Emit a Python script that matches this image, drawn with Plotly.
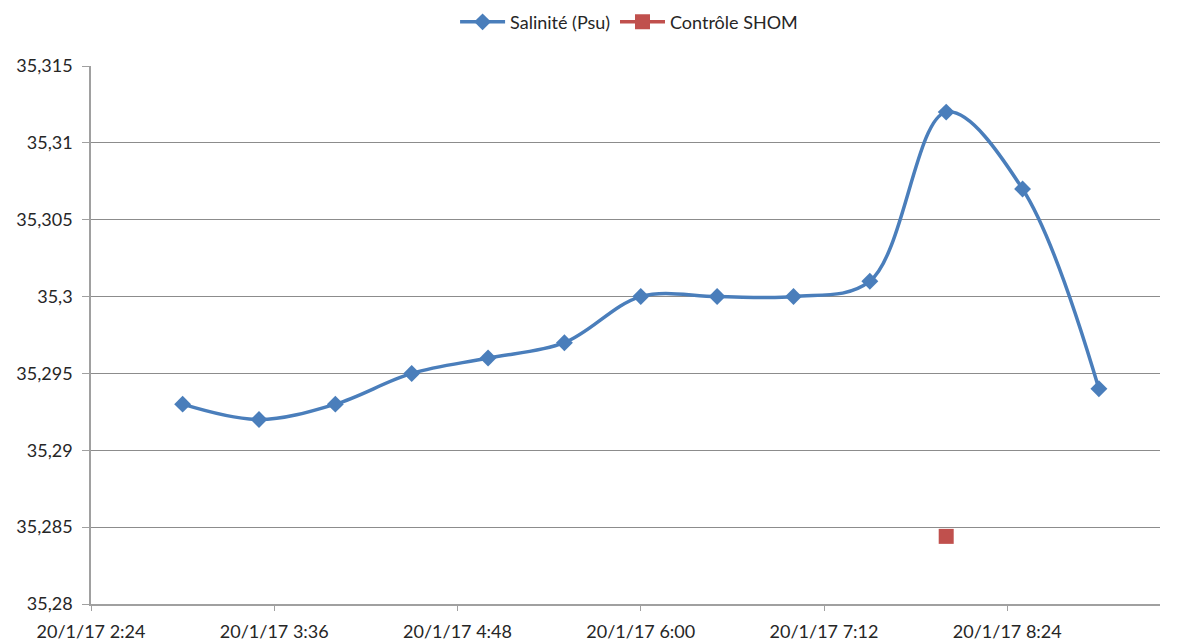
import plotly.graph_objects as go

times = ["2017-01-20 03:00", "2017-01-20 03:30", "2017-01-20 04:00", "2017-01-20 04:30",
         "2017-01-20 05:00", "2017-01-20 05:30", "2017-01-20 06:00", "2017-01-20 06:30",
         "2017-01-20 07:00", "2017-01-20 07:30", "2017-01-20 08:00", "2017-01-20 08:30",
         "2017-01-20 09:00"]
salinite = [35.293, 35.292, 35.293, 35.295, 35.296, 35.297, 35.300, 35.300,
            35.300, 35.301, 35.312, 35.307, 35.294]
shom_times = ["2017-01-20 08:00"]
shom_values = [35.2844]

x_tickvals = ["2017-01-20 02:24", "2017-01-20 03:36", "2017-01-20 04:48",
              "2017-01-20 06:00", "2017-01-20 07:12", "2017-01-20 08:24"]
x_ticktext = ["20/1/17 2:24", "20/1/17 3:36", "20/1/17 4:48",
              "20/1/17 6:00", "20/1/17 7:12", "20/1/17 8:24"]
y_tickvals = [35.28, 35.285, 35.29, 35.295, 35.3, 35.305, 35.31, 35.315]
y_ticktext = ["35,28", "35,285", "35,29", "35,295", "35,3", "35,305", "35,31", "35,315"]

fig = go.Figure()
fig.add_trace(go.Scatter(
    x=times, y=salinite, name="Salinité (Psu)", mode="lines+markers",
    line=dict(color="#4A7EBB", width=3.5, shape="spline", smoothing=1.0),
    marker=dict(symbol="diamond", size=13, color="#4A7EBB"),
))
fig.add_trace(go.Scatter(
    x=shom_times, y=shom_values, name="Contrôle SHOM", mode="lines+markers",
    line=dict(color="#C0504D", width=3.5),
    marker=dict(symbol="square", size=15, color="#C0504D"),
))

fig.update_layout(
    width=1183, height=643,
    margin=dict(l=83, r=31, t=58, b=47, autoexpand=False),
    paper_bgcolor="white", plot_bgcolor="white",
    font=dict(family="Lato, Open Sans, sans-serif", size=18, color="#262626"),
    showlegend=True,
    legend=dict(orientation="h", x=0.525, xanchor="center", xref="container",
                y=0.978, yanchor="middle", yref="container",
                font=dict(size=18), itemwidth=45, tracegroupgap=0),
)
fig.update_xaxes(
    type="date", range=["2017-01-20 02:24", "2017-01-20 09:24"],
    tickvals=x_tickvals, ticktext=x_ticktext, automargin=False,
    showgrid=False, showline=True, linecolor="#A0A0A0", linewidth=1.5,
    ticks="outside", ticklen=5, tickcolor="#A0A0A0", zeroline=False,
    ticklabelstandoff=6,
)
fig.update_yaxes(
    range=[35.28, 35.315], tickvals=y_tickvals, ticktext=y_ticktext, automargin=False,
    showgrid=True, gridcolor="#8C8C8C", gridwidth=1.2,
    showline=True, linecolor="#A0A0A0", linewidth=1.5,
    ticks="outside", ticklen=7, tickcolor="#A0A0A0", zeroline=False,
    ticklabelstandoff=6,
)
fig.write_html("out.html")
